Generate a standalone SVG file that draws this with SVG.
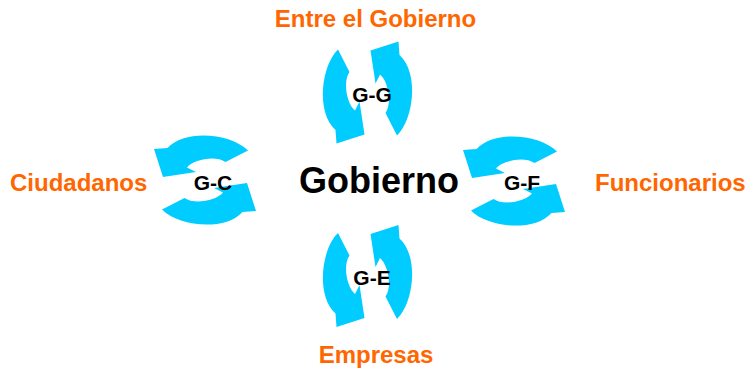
<svg xmlns="http://www.w3.org/2000/svg" width="751" height="369" viewBox="0 0 751 369">
<style>
.arr{fill:#00CCFF;}
.lbl{font-family:"Liberation Sans",Arial,sans-serif;font-weight:bold;font-size:24px;fill:#FF6600;}
.pair{font-family:"Liberation Sans",Arial,sans-serif;font-weight:bold;font-size:21px;fill:#000;text-anchor:middle;}
.main{font-family:"Liberation Sans",Arial,sans-serif;font-weight:bold;font-size:36px;fill:#000;text-anchor:middle;}
</style>
<defs>
<path id="half" d="M -29.5,-43 C -46,-27.5 -52,19.5 -32,37.5 L -31,51 L -3,42 L -8,9 L -12.5,18 C -20.5,11.5 -25,-10.5 -18,-20.5 Z"/>
<g id="cycle">
<use href="#half"/>
<use href="#half" transform="rotate(180)"/>
</g>
</defs>
<rect width="751" height="369" fill="#fff"/>
<g id="connectors" class="arr">
<use href="#cycle" transform="translate(367.5,92.5)"/>
<use href="#cycle" transform="translate(367.5,276)"/>
<use href="#cycle" transform="translate(205,180) rotate(90)"/>
<use href="#cycle" transform="translate(514,181) rotate(90)"/>
</g>
<g id="gobierno"><text class="main" x="379" y="193">Gobierno</text></g>
<g id="gg"><text class="pair" x="372" y="102">G-G</text></g>
<g id="ge"><text class="pair" x="372" y="285">G-E</text></g>
<g id="gc"><text class="pair" x="213" y="190">G-C</text></g>
<g id="gf"><text class="pair" x="522" y="190">G-F</text></g>
<g id="entre"><text class="lbl" x="375.5" y="27" text-anchor="middle">Entre el Gobierno</text></g>
<g id="empresas"><text class="lbl" x="376" y="363" text-anchor="middle">Empresas</text></g>
<g id="ciudadanos"><text class="lbl" x="10" y="191">Ciudadanos</text></g>
<g id="funcionarios"><text class="lbl" x="595" y="191">Funcionarios</text></g>
</svg>
